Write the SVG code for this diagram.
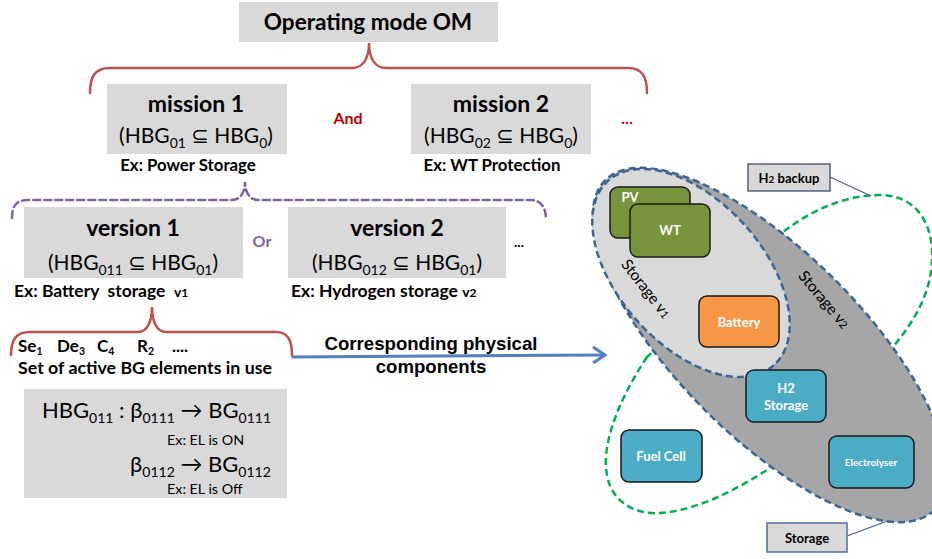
<svg xmlns="http://www.w3.org/2000/svg" width="932" height="559" viewBox="0 0 932 559">
<defs>
<style>
text{font-family:Lato,"Noto Sans","DejaVu Sans",sans-serif;fill:#000}
.b{font-weight:bold}
.box{fill:#d9d9d9}
.t20{font-size:21px}
.ttl{font-size:23px;font-weight:bold;text-anchor:middle}
.ex{font-size:16.8px;font-weight:bold}
.node{stroke:#1a1a1a;stroke-width:1.5}
.nt{fill:#fff;font-weight:bold;font-size:13px;text-anchor:middle}
.mid{text-anchor:middle}
.brace{fill:none;stroke-width:2.5;stroke-linecap:round}
.dash{stroke:#3d6593;stroke-width:2.5;stroke-dasharray:7 4}
.arial{font-family:"Liberation Sans",Arial,sans-serif;font-weight:bold;font-size:18.6px}
.se{font-weight:bold;font-size:17px}
</style>
<marker id="arr" viewBox="0 0 16 20" refX="14" refY="10" markerWidth="16" markerHeight="20" markerUnits="userSpaceOnUse" orient="auto">
<path d="M2,2 L14,10 L2,18" fill="none" stroke="#4f81bd" stroke-width="3"/>
</marker>
</defs>
<rect width="932" height="559" fill="#fff"/>

<g id="connectors">
<path class="brace" stroke="#c0504d" d="M90,93 C90,76 95,68 110,68 L352,68 C362,68 369,60 369,43 C369,60 376,68 386,68 L628,68 C642,68 647,76 647,93"/>
<path class="brace" stroke="#8064a2" stroke-dasharray="7 4" d="M12,218 C12,206 16,200 28,200 L232,200 C240,200 245,193 245,182 C245,193 250,200 258,200 L530,200 C541,200 546,207 546,220"/>
<path class="brace" stroke="#c0504d" d="M11,355 C11,340 16,332 30,332 L138,332 C147,332 152,322 152,307 C152,322 157,332 166,332 L276,332 C288,332 292,340 292,356"/>
<path d="M292,357 L605,355" fill="none" stroke="#4f81bd" stroke-width="3" marker-end="url(#arr)"/>
<line x1="830" y1="177" x2="871" y2="196" stroke="#3d5f86" stroke-width="1.2"/>
<line x1="847" y1="536" x2="890" y2="520" stroke="#3d5f86" stroke-width="1.2"/>
</g>

<g id="operating-mode">
<rect class="box" x="239" y="2" width="259" height="40"/>
<text class="b mid" x="368" y="30" font-size="22.5">Operating mode OM</text>
</g>

<g id="mission1">
<rect class="box" x="107" y="84" width="180" height="70"/>
<text class="ttl" x="196" y="112">mission 1</text>
<text class="mid t20" x="196" y="143">(HBG<tspan font-size="14" dy="5">01</tspan><tspan dy="-5"> ⊆ HBG</tspan><tspan font-size="14" dy="5">0</tspan><tspan dy="-5">)</tspan></text>
<text class="ex mid" x="188" y="171">Ex: Power Storage</text>
</g>
<text class="b mid" x="348" y="124" font-size="16" style="fill:#c00000">And</text>
<g id="mission2">
<rect class="box" x="411" y="84" width="180" height="70"/>
<text class="ttl" x="501" y="112">mission 2</text>
<text class="mid t20" x="501" y="143">(HBG<tspan font-size="14" dy="5">02</tspan><tspan dy="-5"> ⊆ HBG</tspan><tspan font-size="14" dy="5">0</tspan><tspan dy="-5">)</tspan></text>
<text class="ex mid" x="492" y="171">Ex: WT Protection</text>
</g>
<text class="b mid" x="627" y="124" font-size="16" style="fill:#c00000">...</text>

<g id="version1">
<rect class="box" x="24" y="207" width="219" height="71"/>
<text class="ttl" x="133" y="236">version 1</text>
<text class="mid t20" x="133" y="270">(HBG<tspan font-size="14" dy="5">011</tspan><tspan dy="-5"> ⊆ HBG</tspan><tspan font-size="14" dy="5">01</tspan><tspan dy="-5">)</tspan></text>
<text class="b" x="14" y="297" font-size="17.5" xml:space="preserve">Ex: Battery  storage  <tspan font-size="14">v</tspan><tspan font-size="12">1</tspan></text>
</g>
<text class="b mid" x="262" y="247" font-size="16" style="fill:#8064a2">Or</text>
<g id="version2">
<rect class="box" x="288" y="207" width="218" height="71"/>
<text class="ttl" x="397" y="236">version 2</text>
<text class="mid t20" x="397" y="270">(HBG<tspan font-size="14" dy="5">012</tspan><tspan dy="-5"> ⊆ HBG</tspan><tspan font-size="14" dy="5">01</tspan><tspan dy="-5">)</tspan></text>
<text class="b" x="291" y="297" font-size="17.5">Ex: Hydrogen storage <tspan font-size="14">v</tspan><tspan font-size="12">2</tspan></text>
</g>
<text class="b mid" x="519" y="247" font-size="14">...</text>

<g id="active-elements">
<text class="se" x="18" y="352">Se<tspan font-size="10.5" dy="2.5">1</tspan></text>
<text class="se" x="57" y="352">De<tspan font-size="10.5" dy="2.5">3</tspan></text>
<text class="se" x="97" y="352">C<tspan font-size="10.5" dy="2.5">4</tspan></text>
<text class="se" x="137" y="352">R<tspan font-size="10.5" dy="2.5">2</tspan></text>
<text class="se" x="172" y="352">....</text>
<text class="b" x="18" y="374" font-size="17.8">Set of active BG elements in use</text>
</g>

<g id="hbg-formula">
<rect class="box" x="24" y="389" width="263" height="109"/>
<text x="42" y="418" font-size="22">HBG<tspan font-size="14" dy="5">011</tspan><tspan dy="-5"> : β</tspan><tspan font-size="14" dy="5">0111</tspan><tspan dy="-5"> → BG</tspan><tspan font-size="14" dy="5">0111</tspan></text>
<text x="167" y="445" font-size="14.3">Ex: EL is ON</text>
<text x="130" y="472" font-size="22">β<tspan font-size="14" dy="5">0112</tspan><tspan dy="-5"> → BG</tspan><tspan font-size="14" dy="5">0112</tspan></text>
<text x="167" y="494" font-size="14.3">Ex: EL is Off</text>
</g>

<g id="corresponding-label">
<text class="mid arial" x="431" y="350">Corresponding physical</text>
<text class="mid arial" x="431" y="373">components</text>
</g>

<g id="h2-backup-loop">
<path d="M647,357 C625,390 600,440 607,475 C612,505 640,515 660,513 C700,510 740,487 767,470 L893,347 C915,320 934,290 932,250 C930,215 910,195 880,195 C840,195 805,215 783,232 Z" fill="none" stroke="#00b050" stroke-width="2.5" stroke-dasharray="7 4"/>
</g>

<g id="storage-v2">
<ellipse cx="770" cy="345" rx="233" ry="92" transform="rotate(45 770 345)" fill="#a6a6a6" class="dash"/>
<text x="820" y="303" font-size="15.5" class="mid" transform="rotate(50 820 303)">Storage v<tspan font-size="11">2</tspan></text>
</g>

<g id="storage-v1">
<ellipse cx="691" cy="273" rx="124" ry="72" transform="rotate(48 691 273)" fill="#d9d9d9" class="dash"/>
<text x="642" y="292" font-size="15.5" class="mid" transform="rotate(52 642 292)">Storage v<tspan font-size="11">1</tspan></text>
</g>

<g id="pv">
<rect class="node" x="610" y="187" width="80" height="51" rx="8" fill="#77933c"/>
<text class="nt" x="630" y="202">PV</text>
</g>
<g id="wt">
<rect class="node" x="630" y="204" width="80" height="53" rx="8" fill="#77933c"/>
<text class="nt" x="670" y="235">WT</text>
</g>
<g id="battery">
<rect class="node" x="699" y="296" width="80" height="51" rx="8" fill="#f79646"/>
<text class="nt" x="739" y="327">Battery</text>
</g>
<g id="h2-storage">
<rect class="node" x="746" y="370" width="80" height="52" rx="8" fill="#4bacc6"/>
<text class="nt" x="786" y="393">H2</text>
<text class="nt" x="786" y="410">Storage</text>
</g>
<g id="fuel-cell">
<rect class="node" x="621" y="430" width="81" height="52" rx="8" fill="#4bacc6"/>
<text class="nt" x="661" y="461">Fuel Cell</text>
</g>
<g id="electrolyser">
<rect class="node" x="829" y="436" width="85" height="52" rx="8" fill="#4bacc6"/>
<text class="nt" x="871" y="466" style="font-size:10px">Electrolyser</text>
</g>

<g id="h2-backup">
<rect x="748" y="164" width="82" height="27" fill="#d9d9d9" stroke="#3d4f66" stroke-width="1.3"/>
<text class="b mid" x="789" y="183" font-size="13">H<tspan font-size="10">2</tspan> backup</text>
</g>
<g id="storage-label">
<rect x="767" y="523" width="80" height="29" fill="#d9d9d9" stroke="#4f6f96" stroke-width="1.5"/>
<text class="b mid" x="807" y="543" font-size="13">Storage</text>
</g>
</svg>
